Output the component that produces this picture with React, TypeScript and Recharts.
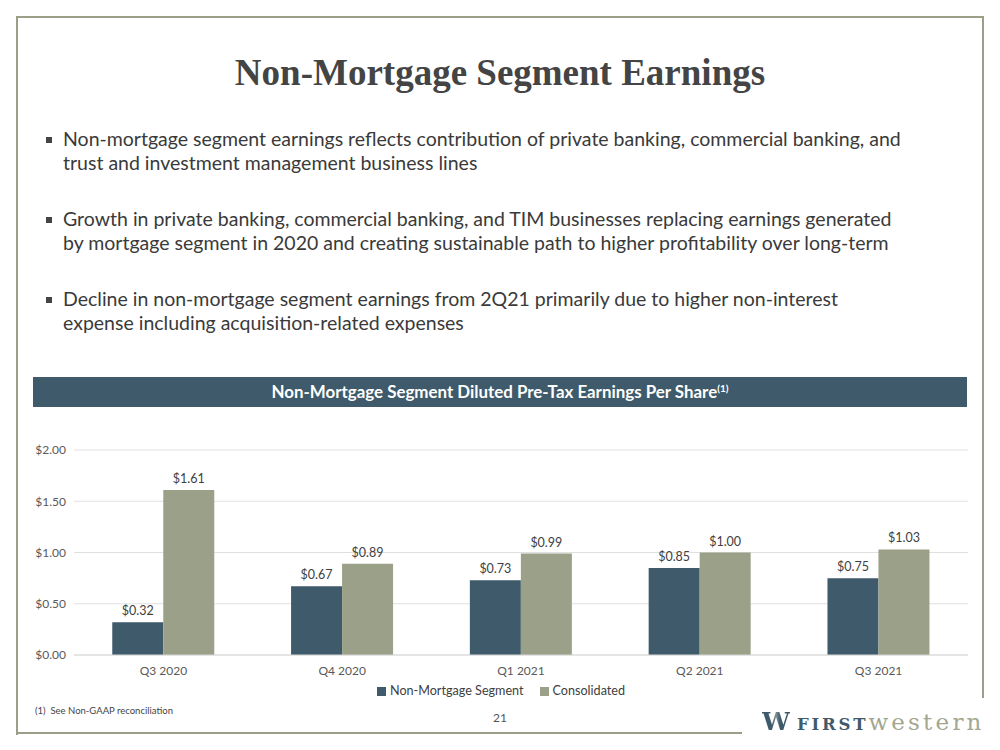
import React from 'react';
import { BarChart, Bar, XAxis, YAxis, CartesianGrid, Legend, LabelList } from 'recharts';

const quarters = ['Q3 2020', 'Q4 2020', 'Q1 2021', 'Q2 2021', 'Q3 2021'];
const nonMortgage = [0.32, 0.67, 0.73, 0.85, 0.75];
const consolidated = [1.61, 0.89, 0.99, 1.0, 1.03];
const yTicks = [0, 0.5, 1, 1.5, 2];

const bullets = [
  [
    'Non-mortgage segment earnings reflects contribution of private banking, commercial banking, and',
    'trust and investment management business lines',
  ],
  [
    'Growth in private banking, commercial banking, and TIM businesses replacing earnings generated',
    'by mortgage segment in 2020 and creating sustainable path to higher profitability over long-term',
  ],
  [
    'Decline in non-mortgage segment earnings from 2Q21 primarily due to higher non-interest',
    'expense including acquisition-related expenses',
  ],
];

const data = quarters.map((q, i) => ({
  quarter: q,
  nonMortgage: nonMortgage[i],
  consolidated: consolidated[i],
}));

const SLATE = '#3e5a6b';
const SAGE = '#9ba088';
const FRAME = '#9c9f88';
const money = (v: any) => `$${Number(v).toFixed(2)}`;

const App = () => {
  return (
    <div
      style={{
        position: 'absolute',
        left: 0,
        top: 0,
        width: 1000,
        height: 750,
        background: '#fff',
        fontFamily: 'Lato, sans-serif',
        color: '#3a3a3a',
        overflow: 'hidden',
      }}
    >
      {/* frame */}
      <div style={{ position: 'absolute', left: 16, top: 16, width: 968, height: 2, background: FRAME }} />
      <div style={{ position: 'absolute', left: 16, top: 16, width: 2, height: 719, background: FRAME }} />
      <div style={{ position: 'absolute', left: 982, top: 16, width: 2, height: 682, background: FRAME }} />
      <div style={{ position: 'absolute', left: 16, top: 732, width: 726, height: 2, background: FRAME }} />

      <div
        style={{
          position: 'absolute',
          left: 0,
          top: 51,
          width: 1000,
          textAlign: 'center',
          fontFamily: '"Liberation Serif", serif',
          fontWeight: 700,
          fontSize: 37,
          color: '#444',
        }}
      >
        Non-Mortgage Segment Earnings
      </div>

      {bullets.map((lines, i) => (
        <div key={i} style={{ position: 'absolute', left: 0, top: 127 + i * 80 }}>
          <div style={{ position: 'absolute', left: 46, top: 10, width: 6, height: 6, background: '#444' }} />
          {lines.map((l, j) => (
            <div
              key={j}
              style={{
                position: 'absolute',
                left: 63,
                top: j * 24,
                fontSize: 19.5,
                lineHeight: '24px',
                whiteSpace: 'nowrap',
                color: '#3a3a3a',
              }}
            >
              {l}
            </div>
          ))}
        </div>
      ))}

      <div
        style={{
          position: 'absolute',
          left: 33,
          top: 377,
          width: 934,
          height: 30,
          background: SLATE,
          color: '#fff',
          fontWeight: 700,
          fontSize: 16.9,
          lineHeight: '30px',
          textAlign: 'center',
        }}
      >
        Non-Mortgage Segment Diluted Pre-Tax Earnings Per Share
        <sup style={{ fontSize: 10, verticalAlign: 'top', lineHeight: '22px' }}>(1)</sup>
      </div>

      <div style={{ position: 'absolute', left: 0, top: 430 }}>
        <BarChart
          width={1000}
          height={273}
          data={data}
          margin={{ top: 20, right: 32, left: 0, bottom: 5 }}
          barCategoryGap="21.4%"
          barGap={0}
        >
          <CartesianGrid vertical={false} stroke="#e0e0e0" />
          <XAxis
            dataKey="quarter"
            height={28}
            tickLine={false}
            axisLine={{ stroke: '#d9d9d9' }}
            tick={{ fill: '#595959', fontSize: 12, dy: 3 }}
          />
          <YAxis
            width={74}
            domain={[0, 2]}
            ticks={yTicks}
            tickFormatter={money}
            axisLine={false}
            tickLine={false}
            tick={{ fill: '#595959', fontSize: 12 }}
          />
          <Legend
            iconType="square"
            iconSize={9}
            itemSorter={(item: any) => (item.dataKey === 'nonMortgage' ? 0 : 1)}
            wrapperStyle={{ fontSize: 12.6, left: 0, width: 1000, paddingLeft: 6 }}
            formatter={(v: any) => (
              <span style={{ color: '#404040', marginRight: v === 'Consolidated' ? 0 : 6 }}>{v}</span>
            )}
          />
          <Bar dataKey="nonMortgage" name="Non-Mortgage Segment" fill={SLATE} isAnimationActive={false}>
            <LabelList dataKey="nonMortgage" position="top" formatter={money} fill="#404040" fontSize={12.5} offset={7} />
          </Bar>
          <Bar dataKey="consolidated" name="Consolidated" fill={SAGE} isAnimationActive={false}>
            <LabelList dataKey="consolidated" position="top" formatter={money} fill="#404040" fontSize={12.5} offset={7} />
          </Bar>
        </BarChart>
      </div>

      <div style={{ position: 'absolute', left: 35, top: 705, fontSize: 9.5, color: '#444' }}>
        (1)&nbsp; See Non-GAAP reconciliation
      </div>
      <div style={{ position: 'absolute', left: 0, width: 1000, top: 710, fontSize: 12, color: '#555', textAlign: 'center' }}>
        21
      </div>

      {/* logo */}
      <div
        style={{
          position: 'absolute',
          left: 762,
          top: 705,
          height: 34,
          whiteSpace: 'nowrap',
          display: 'flex',
          alignItems: 'baseline',
          lineHeight: '34px',
        }}
      >
        <span
          style={{
            fontFamily: '"DejaVu Serif", serif',
            fontWeight: 700,
            fontSize: 25,
            background: 'linear-gradient(90deg, #3e5a6b 0%, #3e5a6b 35%, #7f9294 50%, #3e5a6b 65%, #3e5a6b 100%)',
            WebkitBackgroundClip: 'text',
            backgroundClip: 'text',
            color: 'transparent',
          }}
        >
          W
        </span>
        <span
          style={{
            fontFamily: '"DejaVu Serif", serif',
            fontWeight: 700,
            fontSize: 16.5,
            color: SLATE,
            letterSpacing: 2.8,
            marginLeft: 7,
          }}
        >
          FIRST
        </span>
        <span
          style={{
            fontFamily: '"DejaVu Serif", serif',
            fontSize: 23,
            color: '#a3a78f',
            letterSpacing: 3.2,
          }}
        >
          western
        </span>
      </div>
    </div>
  );
};

export default App;
